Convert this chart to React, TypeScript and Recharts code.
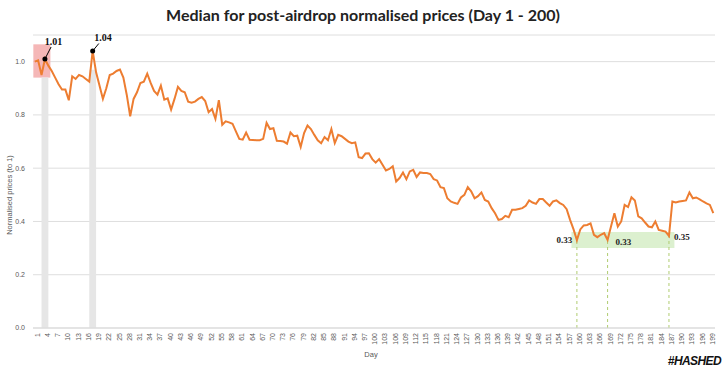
import React from 'react';
import {
    LineChart,
    Line,
    XAxis,
    YAxis,
    CartesianGrid,
    ReferenceArea,
    ReferenceLine,
    ReferenceDot
} from 'recharts';

// median normalised price, day 1..200
const medianPrice = [
    1.00, 1.005, 0.95, 1.01, 0.985, 0.965, 0.94, 0.915, 0.895, 0.895,
    0.855, 0.945, 0.935, 0.95, 0.945, 0.935, 0.925, 1.04, 0.96, 0.91,
    0.86, 0.9, 0.95, 0.955, 0.965, 0.97, 0.94, 0.875, 0.795, 0.86,
    0.885, 0.92, 0.925, 0.955, 0.92, 0.89, 0.876, 0.91, 0.857, 0.862,
    0.82, 0.86, 0.905, 0.89, 0.885, 0.85, 0.846, 0.85, 0.86, 0.867,
    0.852, 0.81, 0.822, 0.785, 0.855, 0.763, 0.776, 0.772, 0.767, 0.738,
    0.71, 0.707, 0.734, 0.707, 0.706, 0.705, 0.705, 0.71, 0.77, 0.747,
    0.75, 0.703, 0.702, 0.7, 0.692, 0.734, 0.72, 0.722, 0.68, 0.732,
    0.76, 0.747, 0.725, 0.705, 0.694, 0.717, 0.705, 0.747, 0.694, 0.725,
    0.72, 0.71, 0.7, 0.694, 0.697, 0.641, 0.638, 0.655, 0.656, 0.634,
    0.621, 0.634, 0.613, 0.591, 0.597, 0.607, 0.55, 0.563, 0.584, 0.559,
    0.588, 0.594, 0.567, 0.584, 0.582, 0.582, 0.578, 0.559, 0.554, 0.529,
    0.525, 0.487, 0.475, 0.47, 0.466, 0.49, 0.5, 0.529, 0.513, 0.487,
    0.495, 0.509, 0.481, 0.475, 0.45, 0.431, 0.406, 0.409, 0.421, 0.416,
    0.444, 0.444, 0.447, 0.45, 0.459, 0.479, 0.471, 0.466, 0.484, 0.484,
    0.471, 0.459, 0.475, 0.479, 0.469, 0.462, 0.446, 0.406, 0.371, 0.33,
    0.37, 0.385, 0.387, 0.393, 0.35, 0.341, 0.35, 0.356, 0.331, 0.381,
    0.431, 0.381, 0.4, 0.462, 0.454, 0.491, 0.479, 0.419, 0.412, 0.396,
    0.381, 0.378, 0.4, 0.368, 0.365, 0.362, 0.346, 0.475, 0.471, 0.475,
    0.477, 0.479, 0.509, 0.487, 0.49, 0.483, 0.475, 0.468, 0.462, 0.431,
];

const days = medianPrice.map((_, i) => i + 1);
const dayTicks = days.filter((d) => (d - 1) % 3 === 0);
const priceTicks = [0, 0.2, 0.4, 0.6, 0.8, 1.0];

// highs marked with grey bars, lows marked in green
const peakDays = [4, 18];
const peakLabels = ['1.01', '1.04'];
const lowDays = [160, 169, 187];
const lowLabels = ['0.33', '0.33', '0.35'];

const data = days.map((day, i) => ({ day, price: medianPrice[i] }));

const tickStyle = { fontSize: 7, fill: '#595959', fontFamily: 'Liberation Sans, Arial, sans-serif' };
const noteFont = 'Liberation Serif, DejaVu Serif, serif';

const App = () => {
    const priceAt = (d: number) => medianPrice[d - 1];
    return (
        <div style={{ position: 'absolute', left: 0, top: 0, width: 726, height: 372, background: '#fff', fontFamily: 'Liberation Sans, Arial, sans-serif' }}>
            <div style={{ position: 'absolute', left: 0, width: 726, top: 5, textAlign: 'center', fontFamily: 'Lato, sans-serif', fontWeight: 700, fontSize: 16, color: '#222' }}>
                Median for post-airdrop normalised prices (Day 1 - 200)
            </div>
            <LineChart
                width={726}
                height={372}
                data={data}
                margin={{ top: 35, right: 11, left: 10, bottom: 14 }}
            >
                <CartesianGrid vertical={false} stroke="#dedede" />
                <ReferenceArea x1={0.6} x2={5.6} y1={0.94} y2={1.065} fill="#f5b7b7" fillOpacity={1} stroke="none" ifOverflow="visible" />
                <ReferenceArea x1={peakDays[0] - 1} x2={peakDays[0] + 1} y1={0} y2={0.94} fill="#e6e6e6" fillOpacity={1} stroke="none" />
                <ReferenceArea x1={peakDays[1] - 1} x2={peakDays[1] + 1} y1={0} y2={0.97} fill="#e6e6e6" fillOpacity={1} stroke="none" />
                <ReferenceArea x1={158.4} x2={188.6} y1={0.3} y2={0.36} fill="#dcf0cf" fillOpacity={1} stroke="none" />
                <XAxis
                    type="number"
                    dataKey="day"
                    domain={[0.5, 200.5]}
                    ticks={dayTicks}
                    interval={0}
                    angle={-90}
                    textAnchor="end"
                    tick={tickStyle}
                    tickLine={false}
                    tickSize={3}
                    axisLine={{ stroke: '#d9d9d9' }}
                    height={30}
                />
                <YAxis
                    domain={[0, 1.1]}
                    ticks={priceTicks}
                    tickFormatter={(v: number) => v.toFixed(1)}
                    tick={tickStyle}
                    tickLine={false}
                    axisLine={false}
                    width={23}
                />
                {lowDays.map((d) => (
                    <ReferenceLine
                        key={'low' + d}
                        segment={[{ x: d, y: 0 }, { x: d, y: priceAt(d) }]}
                        stroke="#b0cc70"
                        strokeDasharray="3 3"
                    />
                ))}
                <Line
                    type="linear"
                    dataKey="price"
                    stroke="#ED7D31"
                    strokeWidth={2}
                    dot={false}
                    isAnimationActive={false}
                />
                <ReferenceLine segment={[{ x: peakDays[0], y: priceAt(peakDays[0]) }, { x: 5.8, y: 1.055 }]} stroke="#000" />
                <ReferenceLine segment={[{ x: peakDays[1], y: priceAt(peakDays[1]) }, { x: 19.8, y: 1.068 }]} stroke="#000" />
                {peakDays.map((d) => (
                    <ReferenceDot key={'pk' + d} x={d} y={priceAt(d)} r={2.5} fill="#000" stroke="none" />
                ))}
                <ReferenceDot x={6.5} y={1.075} r={0} fill="none" stroke="none" ifOverflow="visible"
                    label={{ value: peakLabels[0], position: 'center', fill: '#111', fontSize: 10, fontWeight: 700, fontFamily: noteFont }} />
                <ReferenceDot x={21} y={1.09} r={0} fill="none" stroke="none" ifOverflow="visible"
                    label={{ value: peakLabels[1], position: 'center', fill: '#111', fontSize: 10, fontWeight: 700, fontFamily: noteFont }} />
                <ReferenceDot x={156.3} y={0.331} r={0} fill="none" stroke="none"
                    label={{ value: lowLabels[0], position: 'center', fill: '#222', fontSize: 9, fontWeight: 600, fontFamily: noteFont }} />
                <ReferenceDot x={173.6} y={0.322} r={0} fill="none" stroke="none"
                    label={{ value: lowLabels[1], position: 'center', fill: '#222', fontSize: 9, fontWeight: 600, fontFamily: noteFont }} />
                <ReferenceDot x={190.8} y={0.343} r={0} fill="none" stroke="none"
                    label={{ value: lowLabels[2], position: 'center', fill: '#222', fontSize: 9, fontWeight: 600, fontFamily: noteFont }} />
            </LineChart>
            <div style={{ position: 'absolute', left: 9, top: 195, transform: 'translate(-50%, -50%) rotate(-90deg)', whiteSpace: 'nowrap', fontSize: 7.5, color: '#595959' }}>
                Normalised prices (to 1)
            </div>
            <div style={{ position: 'absolute', left: 371, top: 354, transform: 'translate(-50%, -50%)', fontSize: 7.5, color: '#595959' }}>
                Day
            </div>
            <div style={{ position: 'absolute', right: 5, top: 354, fontSize: 12, fontWeight: 900, fontStyle: 'italic', letterSpacing: -0.6, color: '#111' }}>
                #HASHED
            </div>
        </div>
    );
};

export default App;
